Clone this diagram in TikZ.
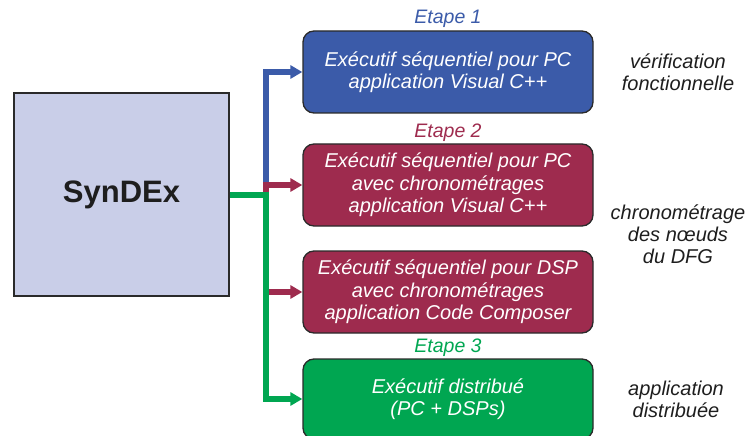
\documentclass[tikz,border=0pt]{standalone}
\usepackage{fontspec}
\setmainfont{Liberation Sans}
\usetikzlibrary{arrows.meta}
\definecolor{cblue}{HTML}{3B5BA9}
\definecolor{cred}{HTML}{9E2B4E}
\definecolor{cgreen}{HTML}{00A651}
\definecolor{csyn}{HTML}{C9CEE8}
\definecolor{cborder}{HTML}{2A2A2A}
\definecolor{ctext}{HTML}{1E1E1E}
\tikzset{
  stagebox/.style={draw=cborder, line width=1.3pt, rounded corners=11pt,
    minimum width=290pt, minimum height=82pt, text=white, align=center,
    font=\fontsize{20}{22.5}\selectfont\itshape, inner sep=0pt},
  steplabel/.style={font=\fontsize{19.5}{22}\selectfont\itshape, inner sep=0pt},
  sidetext/.style={font=\fontsize{20}{22}\selectfont\itshape, text=ctext, align=center, inner sep=0pt},
  conn/.style={line width=6pt, -{Triangle[length=12pt,width=13pt]}},
}
\begin{document}
\begin{tikzpicture}[x=1pt,y=-1pt]
\useasboundingbox (0,0) rectangle (748,436);
% SynDEx
\node[draw=cborder, line width=1.3pt, fill=csyn, minimum width=215pt, minimum height=203pt,
  font=\fontsize{31}{36}\selectfont\bfseries, text=ctext] (syn) at (121.5,194.5) {SynDEx};
% boxes
\node[stagebox, fill=cblue] (b1) at (448,72) {Exécutif séquentiel pour PC\\application Visual C++};
\node[stagebox, fill=cred] (r1) at (448,185) {Exécutif séquentiel pour PC\\avec chronométrages\\application Visual C++};
\node[stagebox, fill=cred] (r2) at (448,292) {Exécutif séquentiel pour DSP\\avec chronométrages\\application Code Composer};
\node[stagebox, fill=cgreen, minimum height=80pt] (g) at (448,399) {Exécutif distribué\\(PC + DSPs)};
% labels
\node[steplabel, text=cblue] (e1) at (448,19) {Etape 1};
\node[steplabel, text=cred] (e2) at (448,133) {Etape 2};
\node[steplabel, text=cgreen] (e3) at (448,348) {Etape 3};
\node[sidetext] (s1) at (678,72) {vérification\\fonctionnelle};
\node[sidetext] (s2) at (678,234) {chronométrage\\des nœuds\\du DFG};
\node[sidetext] (s3) at (676,399) {application\\distribuée};
% connectors
\coordinate (j) at (266,194.5);
\draw[conn, cblue] (j) |- (b1.west);
\draw[conn, cred] (j) |- (r1.west);
\draw[conn, cred] (j) |- (r2.west);
\draw[conn, cgreen] (syn.east) -- (j) |- (g.west);
\end{tikzpicture}
\end{document}
